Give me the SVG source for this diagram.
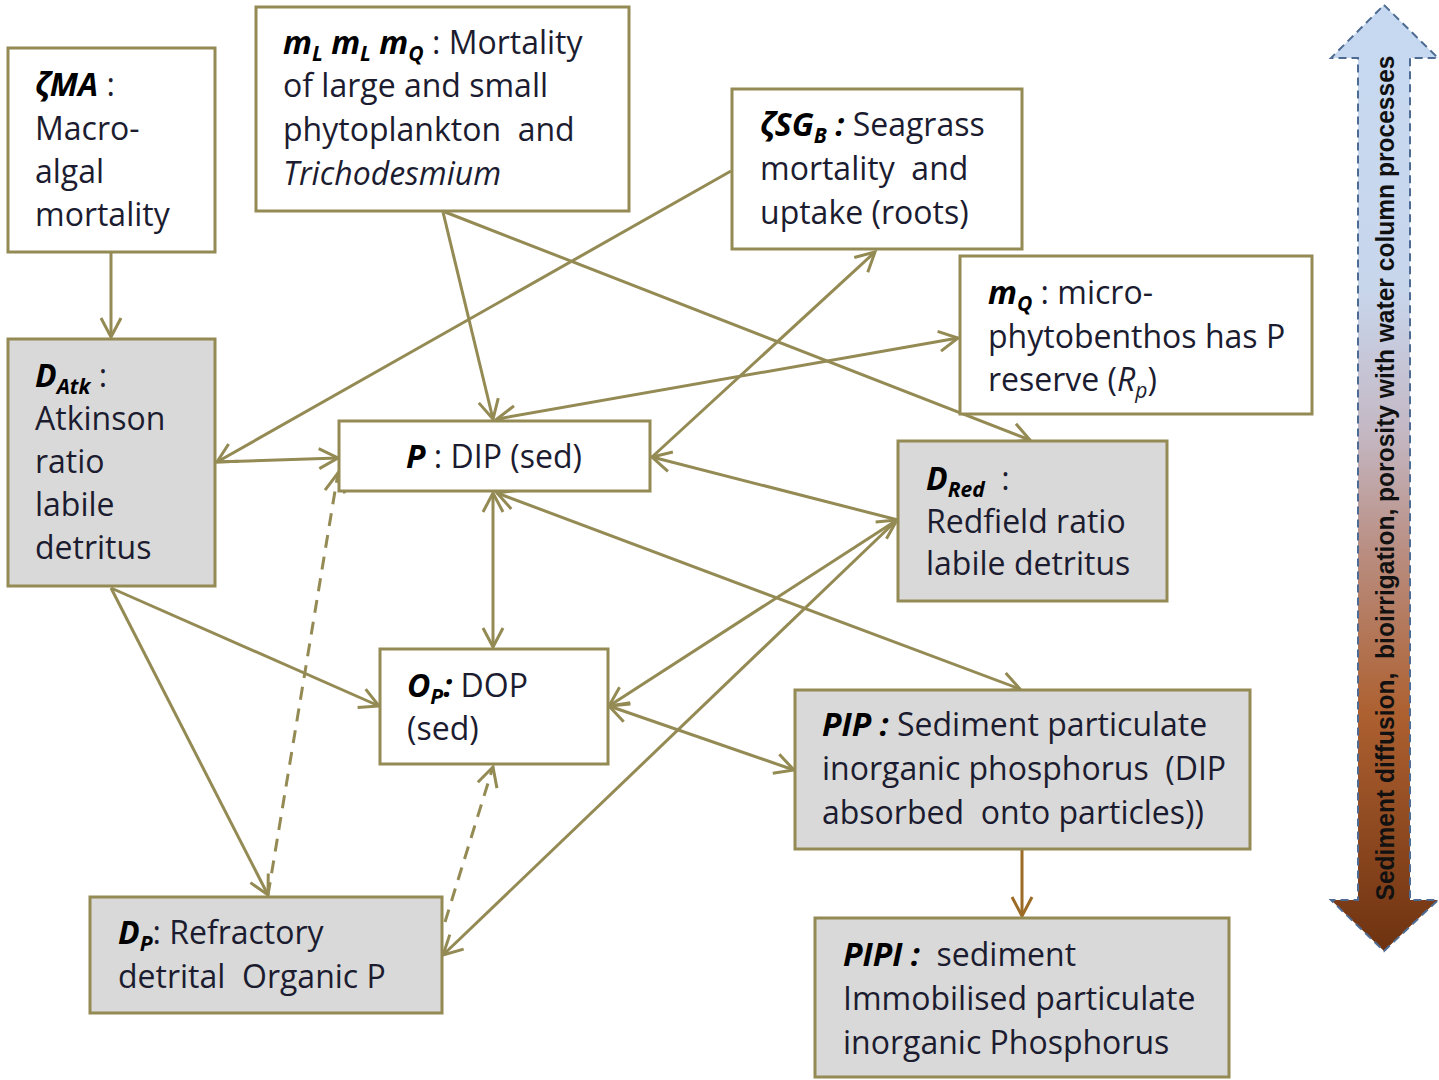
<svg xmlns="http://www.w3.org/2000/svg" width="1439" height="1080" viewBox="0 0 1439 1080">
<style>
.box{fill:#fff;stroke:#948a54;stroke-width:3}
.gbox{fill:#d9d9d9;stroke:#948a54;stroke-width:3}
text{font-family:"Open Sans",Lato,"Liberation Sans",sans-serif;font-size:32px;fill:#1c1c30;white-space:pre}
.b{font-weight:bold;font-style:italic;fill:#000}
.bs{font-weight:bold;font-style:italic;fill:#000;font-size:21px}
.i{font-style:italic}
.is{font-style:italic;font-size:21px}
.c line{stroke:#948a54;stroke-width:3;fill:none}
.dash{stroke-dasharray:13 9}
.side{font-family:"Liberation Sans",Arial,sans-serif;font-weight:bold;font-size:25px;fill:#111}
</style>
<defs>
<marker id="a" viewBox="-21 -12 24 24" refX="0" refY="0" markerWidth="24" markerHeight="24" markerUnits="userSpaceOnUse" orient="auto-start-reverse">
<path d="M-19,-10 L0,0 L-19,10" fill="none" stroke="#948a54" stroke-width="3"/>
</marker>
<marker id="br" viewBox="-21 -12 24 24" refX="0" refY="0" markerWidth="24" markerHeight="24" markerUnits="userSpaceOnUse" orient="auto">
<path d="M-19,-10 L0,0 L-19,10" fill="none" stroke="#9c6b25" stroke-width="3"/>
</marker>
<linearGradient id="grad" x1="0" y1="0" x2="0" y2="1">
<stop offset="0" stop-color="#c6d9f1"/>
<stop offset="0.3" stop-color="#c8d6ec"/>
<stop offset="0.45" stop-color="#c4b8c4"/>
<stop offset="0.58" stop-color="#b98d80"/>
<stop offset="0.75" stop-color="#ad6030"/>
<stop offset="1" stop-color="#6e3210"/>
</linearGradient>
</defs>
<rect width="1439" height="1080" fill="#fff"/>

<g id="sidearrow">
<polygon points="1384,5 1438,58 1410,58 1410,900 1438,900 1384,951 1331,900 1358,900 1358,58 1331,58" fill="url(#grad)" stroke="#4d6b93" stroke-width="2" stroke-dasharray="8 5"/>
<text class="side" transform="translate(1394,478) rotate(-90)" text-anchor="middle" textLength="845" lengthAdjust="spacingAndGlyphs">Sediment diffusion,  bioirrigation, porosity with water column processes</text>
</g>

<g id="connectors" class="c">
<line x1="111" y1="252" x2="111" y2="337" marker-end="url(#a)"/>
<line x1="443" y1="212" x2="493" y2="419" marker-end="url(#a)"/>
<line x1="445" y1="212" x2="1030" y2="440" marker-end="url(#a)"/>
<line x1="731" y1="171" x2="217" y2="462" marker-end="url(#a)"/>
<line x1="216" y1="462" x2="338" y2="458" marker-end="url(#a)"/>
<line x1="652" y1="457" x2="875" y2="252" marker-end="url(#a)"/>
<line x1="497" y1="419" x2="958" y2="338" marker-start="url(#a)" marker-end="url(#a)"/>
<line x1="898" y1="520" x2="652" y2="457" marker-end="url(#a)"/>
<line x1="493" y1="493" x2="493" y2="647" marker-start="url(#a)" marker-end="url(#a)"/>
<line x1="497" y1="493" x2="1020" y2="689" marker-start="url(#a)" marker-end="url(#a)"/>
<line x1="111" y1="588" x2="379" y2="706" marker-end="url(#a)"/>
<line x1="111" y1="588" x2="268" y2="895" marker-end="url(#a)"/>
<line class="dash" x1="268" y1="895" x2="338" y2="473" marker-end="url(#a)"/>
<line class="dash" x1="445" y1="922" x2="493" y2="767" marker-end="url(#a)"/>
<line x1="609" y1="706" x2="897" y2="520" marker-start="url(#a)" marker-end="url(#a)"/>
<line x1="897" y1="520" x2="443" y2="955" marker-end="url(#a)"/>
<line x1="609" y1="706" x2="794" y2="770" marker-start="url(#a)" marker-end="url(#a)"/>
<line x1="1022" y1="850" x2="1022" y2="916" style="stroke:#9c6b25" marker-end="url(#br)"/>
</g>

<g id="zetaMA">
<rect class="box" x="8" y="48" width="207" height="204"/>
<text x="35" y="96"><tspan class="b">ζMA</tspan> :</text>
<text x="35" y="140">Macro-</text>
<text x="35" y="183">algal</text>
<text x="35" y="226">mortality</text>
</g>

<g id="mortality">
<rect class="box" x="256" y="7" width="373" height="204"/>
<text x="283" y="54"><tspan class="b">m</tspan><tspan class="bs" dy="7">L</tspan><tspan class="b" dy="-7"> m</tspan><tspan class="bs" dy="7">L</tspan><tspan class="b" dy="-7"> m</tspan><tspan class="bs" dy="7">Q</tspan><tspan dy="-7"> : Mortality</tspan></text>
<text x="283" y="97">of large and small</text>
<text x="283" y="141">phytoplankton  and</text>
<text x="283" y="185" class="i">Trichodesmium</text>
</g>

<g id="zetaSG">
<rect class="box" x="732" y="89" width="290" height="160"/>
<text x="760" y="136"><tspan class="b">ζSG</tspan><tspan class="bs" dy="7">B</tspan><tspan class="b" dy="-7"> : </tspan>Seagrass</text>
<text x="760" y="180">mortality  and</text>
<text x="760" y="224">uptake (roots)</text>
</g>

<g id="mQ">
<rect class="box" x="960" y="256" width="352" height="158"/>
<text x="988" y="304"><tspan class="b">m</tspan><tspan class="bs" dy="7">Q</tspan><tspan dy="-7"> : micro-</tspan></text>
<text x="988" y="348">phytobenthos has P</text>
<text x="988" y="391">reserve (<tspan class="i">R</tspan><tspan class="is" dy="7">p</tspan><tspan dy="-7">)</tspan></text>
</g>

<g id="DAtk">
<rect class="gbox" x="8" y="339" width="207" height="247"/>
<text x="35" y="387"><tspan class="b">D</tspan><tspan class="bs" dy="7">Atk</tspan><tspan dy="-7"> :</tspan></text>
<text x="35" y="430">Atkinson</text>
<text x="35" y="473">ratio</text>
<text x="35" y="516">labile</text>
<text x="35" y="559">detritus</text>
</g>

<g id="P">
<rect class="box" x="339" y="421" width="311" height="70"/>
<text x="494" y="468" text-anchor="middle"><tspan class="b">P</tspan> : DIP (sed)</text>
</g>

<g id="DRed">
<rect class="gbox" x="898" y="441" width="269" height="160"/>
<text x="926" y="490"><tspan class="b">D</tspan><tspan class="bs" dy="7">Red</tspan><tspan dy="-7">  :</tspan></text>
<text x="926" y="533">Redfield ratio</text>
<text x="926" y="575">labile detritus</text>
</g>

<g id="OP">
<rect class="box" x="380" y="649" width="228" height="115"/>
<text x="407" y="697"><tspan class="b">O</tspan><tspan class="bs" dy="7">P</tspan><tspan class="b" dy="-7">:</tspan> DOP</text>
<text x="407" y="740">(sed)</text>
</g>

<g id="PIP">
<rect class="gbox" x="795" y="690" width="455" height="159"/>
<text x="822" y="736"><tspan class="b">PIP :</tspan> Sediment particulate</text>
<text x="822" y="780">inorganic phosphorus  (DIP</text>
<text x="822" y="824">absorbed  onto particles))</text>
</g>

<g id="DP">
<rect class="gbox" x="90" y="897" width="352" height="116"/>
<text x="118" y="944"><tspan class="b">D</tspan><tspan class="bs" dy="7">P</tspan><tspan dy="-7">: Refractory</tspan></text>
<text x="118" y="988">detrital  Organic P</text>
</g>

<g id="PIPI">
<rect class="gbox" x="815" y="918" width="414" height="159"/>
<text x="843" y="966"><tspan class="b">PIPI :</tspan>  sediment</text>
<text x="843" y="1010">Immobilised particulate</text>
<text x="843" y="1054">inorganic Phosphorus</text>
</g>
</svg>
